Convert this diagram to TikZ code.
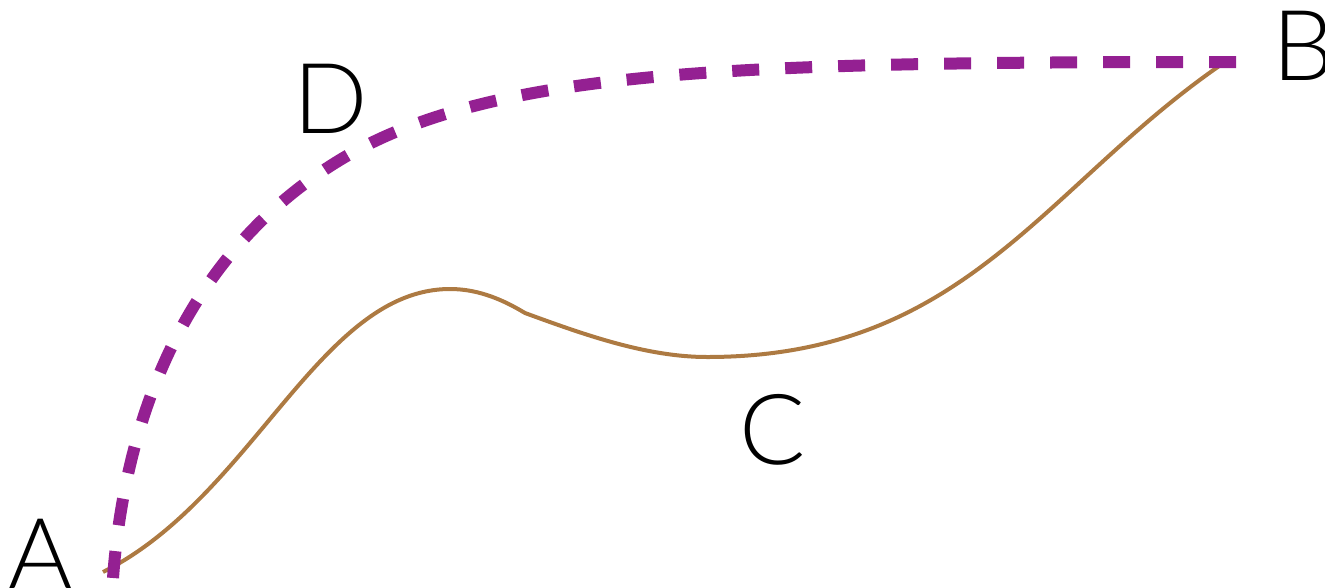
\documentclass[tikz,border=0pt]{standalone}
\usepackage{fontspec}
\setmainfont{Lato}[UprightFont=* Light]
\definecolor{pathpurple}{RGB}{148,32,146}
\definecolor{pathbrown}{RGB}{173,122,66}
\begin{document}
\begin{tikzpicture}[x=1pt,y=-1pt,
  lbl/.style={inner sep=0pt,anchor=base,font=\fontsize{98}{98}\selectfont},
  brownpath/.style={draw=pathbrown,line width=4pt},
  purplepath/.style={draw=pathpurple,line width=12pt,dash pattern=on 27pt off 26pt}]
\useasboundingbox (0,0) rectangle (1325,587);
\node[lbl] (A) at (41,588) {A};
\node[lbl] (B) at (1303,80) {B};
\node[lbl] (C) at (773,464) {C};
\node[lbl] (D) at (331,133) {D};
\coordinate (a1) at (103,572);
\coordinate (peak) at (450,289);
\coordinate (kink) at (525,313);
\coordinate (low) at (707,357);
\coordinate (b1) at (1225,62);
\coordinate (a2) at (113,578);
\coordinate (mid) at (335,163);
\coordinate (b2) at (1240,62);
\draw[brownpath] (a1) .. controls (253,497) and (320,289) .. (peak)
  .. controls (480,289) and (505,301) .. (kink)
  .. controls (585,335) and (647,357) .. (low)
  .. controls (967,357) and (1045,184.4) .. (b1);
\draw[purplepath] (a2) .. controls (125.6,408.5) and (190.8,253) .. (mid)
  .. controls (487.5,67.4) and (740,62) .. (b2);
\end{tikzpicture}
\end{document}
